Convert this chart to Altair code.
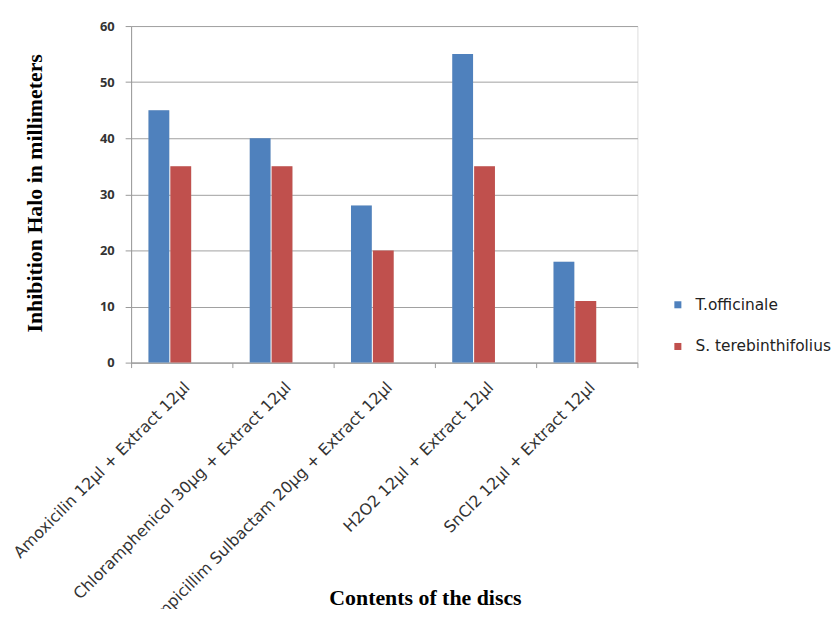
import altair as alt
import pandas as pd

categories = [
    "Amoxicilin 12µl + Extract 12µl",
    "Chloramphenicol 30µg + Extract 12µl",
    "Ampicillim Sulbactam 20µg + Extract 12µl",
    "H2O2 12µl + Extract 12µl",
    "SnCl2 12µl + Extract 12µl",
]
series = ["T.officinale", "S. terebinthifolius"]
t_officinale = [45, 40, 28, 55, 18]
s_terebinthifolius = [35, 35, 20, 35, 11]
colors = ["#4f81bd", "#c0504d"]

rows = []
for i, c in enumerate(categories):
    rows.append({"cat": c, "series": series[0], "value": t_officinale[i]})
    rows.append({"cat": c, "series": series[1], "value": s_terebinthifolius[i]})
df = pd.DataFrame(rows)

W, H = 510, 339

x_enc = alt.X(
    "cat:N",
    sort=categories,
    scale=alt.Scale(paddingInner=0, paddingOuter=0),
    axis=alt.Axis(
        title="Contents of the discs",
        titleFont="Liberation Serif",
        titleFontSize=22,
        titleFontWeight="bold",
        titleColor="#000",
        titleX=296,
        titleY=237,
        titleAnchor="middle",
        titleAlign="center",
        titleBaseline="middle",
        labelAngle=-45,
        labelAlign="right",
        labelBaseline="middle",
        labelFont="DejaVu Sans",
        labelFontSize=16,
        labelColor="#333",
        labelOffset=5,
        labelPadding=17,
        labelLimit=400,
        tickBand="extent",
        tickSize=5,
        tickColor="#999",
        domainColor="#999",
        grid=False,
    ),
)
xoff_enc = alt.XOffset(
    "series:N",
    sort=series,
    scale=alt.Scale(paddingInner=0.05, paddingOuter=0, range=[17.5, 60.5]),
)
y_enc = alt.Y(
    "value:Q",
    scale=alt.Scale(domain=[0, 60], nice=False),
    axis=alt.Axis(
        values=[0, 10, 20, 30, 40, 50, 60],
        title="Inhibition Halo in millimeters",
        titleFont="Liberation Serif",
        titleFontSize=22,
        titleFontWeight="bold",
        titleColor="#000",
        titleX=-97,
        titleY=168,
        titleAlign="center",
        titleBaseline="middle",
        labelFont="Open Sans",
        labelFontSize=13,
        labelFontWeight="bold",
        labelColor="#333",
        labelPadding=11,
        tickSize=6,
        tickColor="#999",
        domainColor="#999",
        gridColor="#a0a0a0",
    ),
)

shadow = alt.Chart(df).mark_bar(xOffset=3, x2Offset=3, opacity=0.5).encode(
    x=x_enc,
    xOffset=xoff_enc,
    y=y_enc,
    color=alt.value("#c8c8c8"),
)

bars = alt.Chart(df).mark_bar().encode(
    x=x_enc,
    xOffset=xoff_enc,
    y=y_enc,
    color=alt.Color(
        "series:N",
        sort=series,
        scale=alt.Scale(domain=series, range=colors),
        legend=alt.Legend(
            title=None,
            orient="none",
            legendX=543,
            legendY=273,
            symbolType="square",
            symbolSize=50,
            symbolStrokeWidth=0,
            labelFont="DejaVu Sans",
            labelFontSize=15.5,
            labelColor="#222",
            rowPadding=25,
            labelOffset=10,
        ),
    ),
)

chart = alt.layer(shadow, bars).properties(
    width=W,
    height=H,
    autosize=alt.AutoSizeParams(type="none"),
    padding={"left": 124, "top": 16, "right": 195, "bottom": 246},
).configure_view(stroke=None).configure(background="white")

chart.save("out.html", embed_options={"renderer": "svg", "actions": False})
